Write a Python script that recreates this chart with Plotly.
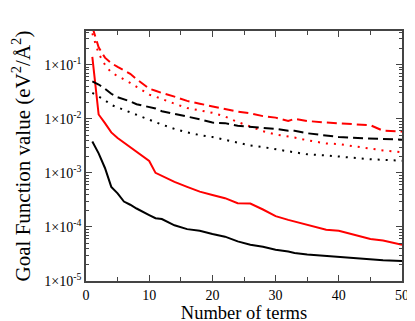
import numpy as np
import plotly.graph_objects as go

terms = [1, 2, 3, 4, 5, 6, 7, 8, 10, 11, 12, 14, 16, 18, 20, 22, 24, 26, 28,
         30, 32, 33, 35, 38, 40, 43, 45, 47, 50]

black_solid = [3.8e-3, 2.29e-3, 1.23e-3, 5.5e-4, 4.17e-4, 2.95e-4, 2.57e-4, 2.19e-4,
               1.66e-4, 1.45e-4, 1.40e-4, 1.07e-4, 9.1e-5, 8.5e-5, 7.4e-5, 6.6e-5,
               5.4e-5, 4.7e-5, 4.3e-5, 3.8e-5, 3.5e-5, 3.3e-5, 3.1e-5, 2.9e-5,
               2.75e-5, 2.6e-5, 2.5e-5, 2.43e-5, 2.34e-5]
red_solid = [0.14, 1.2e-2, 8.3e-3, 5.6e-3, 4.4e-3, 3.6e-3, 2.95e-3, 2.4e-3,
             1.66e-3, 1.0e-3, 8.7e-4, 6.8e-4, 5.5e-4, 4.5e-4, 3.9e-4, 3.4e-4,
             2.75e-4, 2.7e-4, 2.1e-4, 1.58e-4, 1.35e-4, 1.26e-4, 1.07e-4, 8.9e-5,
             8.5e-5, 6.9e-5, 6.0e-5, 5.6e-5, 4.7e-5]
red_dashed = [0.5, 0.21, 0.135, 0.107, 0.091, 0.078, 0.068, 0.054, 0.036, 0.033,
              0.030, 0.0257, 0.0214, 0.019, 0.017, 0.0151, 0.0135, 0.0126, 0.0112,
              0.0105, 0.0091, 0.010, 0.0091, 0.0085, 0.0083, 0.0079, 0.0076,
              0.0060, 0.0058]
red_dotted = [0.38, 0.16, 0.10, 0.071, 0.062, 0.054, 0.046, 0.039, 0.028, 0.0257,
              0.023, 0.019, 0.0158, 0.0141, 0.0129, 0.011, 0.0087, 0.0072, 0.0059,
              0.0051, 0.0047, 0.0045, 0.0040, 0.0035, 0.0034, 0.0030, 0.0028,
              0.0026, 0.0024]
black_dashed = [0.049, 0.043, 0.036, 0.029, 0.025, 0.023, 0.021, 0.0186, 0.0162,
                0.0155, 0.0138, 0.0123, 0.0112, 0.0098, 0.0085, 0.0083, 0.0074,
                0.0071, 0.0068, 0.0065, 0.0060, 0.0060, 0.0054, 0.0049, 0.0046,
                0.0044, 0.0043, 0.0042, 0.0041]
black_dotted = [0.030, 0.026, 0.022, 0.018, 0.0162, 0.0145, 0.0132, 0.0117, 0.0095,
                0.0087, 0.0078, 0.0065, 0.0056, 0.0050, 0.0046, 0.0041, 0.0036,
                0.0032, 0.0030, 0.0027, 0.0025, 0.0024, 0.0022, 0.0021, 0.0020,
                0.00186, 0.00178, 0.00174, 0.00168]

y_ticks = [1e-5, 1e-4, 1e-3, 1e-2, 1e-1]
y_ticktext = ['1\u00d710<sup>-5</sup>', '1\u00d710<sup>-4</sup>', '1\u00d710<sup>-3</sup>',
              '1\u00d710<sup>-2</sup>', '1\u00d710<sup>-1</sup>']
minor_y = [m * 10.0 ** e for e in range(-5, 0) for m in range(2, 10)]

series = [
    (black_solid, 'black', 'solid'),
    (red_solid, 'red', 'solid'),
    (red_dashed, 'red', '10px,5px'),
    (red_dotted, 'red', '2px,6px'),
    (black_dashed, 'black', '10px,5px'),
    (black_dotted, 'black', '2px,6px'),
]

fig = go.Figure()
for values, color, dash in series:
    fig.add_trace(go.Scatter(x=terms, y=values, mode='lines',
                             line=dict(color=color, width=2, dash=dash),
                             showlegend=False))

axis_col = '#444'
fig.update_layout(
    width=415, height=321,
    margin=dict(l=77, r=21, t=23, b=43),
    plot_bgcolor='white', paper_bgcolor='white',
    font=dict(family='Liberation Serif', color='black', size=14),
)
fig.update_xaxes(
    range=[0, 50], tickvals=[0, 10, 20, 30, 40, 50],
    ticks='inside', ticklen=6, tickcolor=axis_col,
    minor=dict(tickvals=[5, 15, 25, 35, 45], ticks='inside', ticklen=4,
               tickcolor=axis_col, showgrid=False),
    showline=True, linecolor=axis_col, linewidth=1.5, mirror='allticks',
    showgrid=False, zeroline=False,
    tickfont=dict(size=14),
    title=dict(text='Number of terms', font=dict(size=18.5), standoff=2),
)
fig.update_yaxes(
    type='log', range=[-5, -0.377],
    tickvals=y_ticks, ticktext=y_ticktext,
    ticks='inside', ticklen=6, tickcolor=axis_col,
    minor=dict(tickvals=minor_y, ticks='inside', ticklen=3,
               tickcolor=axis_col, showgrid=False),
    showline=True, linecolor=axis_col, linewidth=1.5, mirror='allticks',
    showgrid=False, zeroline=False,
    tickfont=dict(size=14),
    title=dict(text='Goal Function value (eV<sup>2</sup>/\u00c5<sup>2</sup>)',
               font=dict(size=21), standoff=10),
)

fig.write_html('out.html')
